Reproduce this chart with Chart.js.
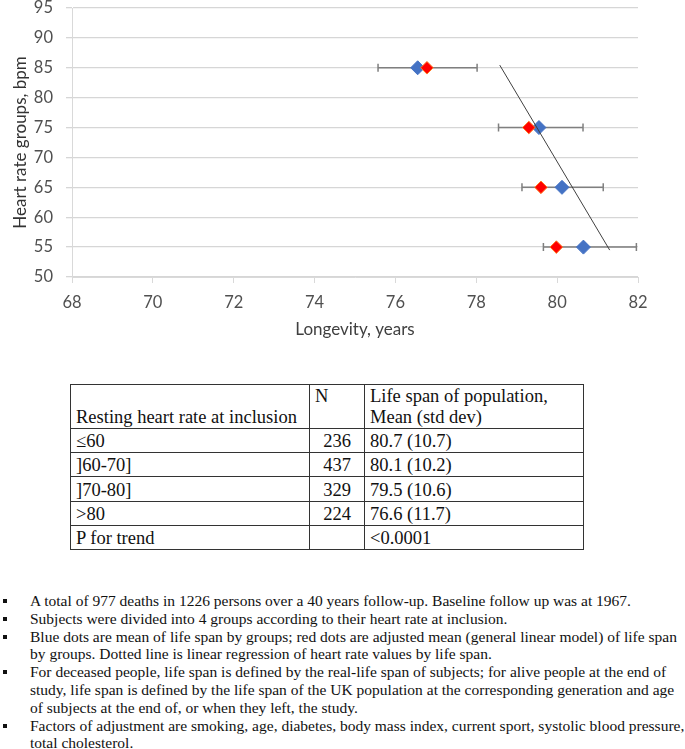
<!DOCTYPE html>
<html>
<head>
<meta charset="utf-8">
<script src="https://cdn.jsdelivr.net/npm/chart.js@4.4.1/dist/chart.umd.min.js"></script>
<style>
  html, body { margin: 0; padding: 0; background: #fff; }
  body { width: 685px; height: 749px; position: relative; overflow: hidden; }
  #chart-box { position: absolute; left: 0; top: 0; width: 685px; height: 345px; }
  table.stats {
    position: absolute; left: 70px; top: 384px;
    border-collapse: collapse;
    font-family: "Liberation Serif", "Times New Roman", serif;
    font-size: 18.5px; color: #111;
  }
  table.stats td {
    border: 1px solid #333; padding: 0 0 0 5px;
    line-height: 21px; vertical-align: bottom; white-space: nowrap;
  }
  table.stats tr.row td { height: 23.1px; }
  table.stats tr.head td { height: 42.3px; }
  table.stats td.top { vertical-align: top; padding-top: 1px; line-height: 20.6px; }
  table.stats td.num { text-align: right; padding: 0 13px 0 0; }
  ul.notes {
    position: absolute; left: 0; top: 592px; margin: 0; padding: 0;
    list-style: none;
    font-family: "Liberation Serif", "Times New Roman", serif;
    font-size: 15.5px; line-height: 17.8px; color: #111; white-space: nowrap;
  }
  ul.notes li { position: relative; padding-left: 30px; }
  ul.notes li::before {
    content: ""; position: absolute; left: 3px; top: 7px;
    width: 4px; height: 4px; background: #111;
  }
</style>
</head>
<body>
<div id="chart-box"><canvas id="chart-hr" width="685" height="345"></canvas></div>

<table class="stats">
  <tr class="head">
    <td style="width:233px">Resting heart rate at inclusion</td>
    <td class="top" style="width:49px">N</td>
    <td class="top" style="width:213px">Life span of population,<br>Mean (std dev)</td>
  </tr>
  <tr class="row"><td>≤60</td><td class="num">236</td><td>80.7 (10.7)</td></tr>
  <tr class="row"><td>]60-70]</td><td class="num">437</td><td>80.1 (10.2)</td></tr>
  <tr class="row"><td>]70-80]</td><td class="num">329</td><td>79.5 (10.6)</td></tr>
  <tr class="row"><td>&gt;80</td><td class="num">224</td><td>76.6 (11.7)</td></tr>
  <tr class="row"><td>P for trend</td><td class="num"></td><td>&lt;0.0001</td></tr>
</table>

<ul class="notes">
  <li>A total of 977 deaths in 1226 persons over a 40 years follow-up. Baseline follow up was at 1967.</li>
  <li>Subjects were divided into 4 groups according to their heart rate at inclusion.</li>
  <li>Blue dots are mean of life span by groups; red dots are adjusted mean (general linear model) of life span<br>by groups. Dotted line is linear regression of heart rate values by life span.</li>
  <li>For deceased people, life span is defined by the real-life span of subjects; for alive people at the end of<br>study, life span is defined by the life span of the UK population at the corresponding generation and age<br>of subjects at the end of, or when they left, the study.</li>
  <li>Factors of adjustment are smoking, age, diabetes, body mass index, current sport, systolic blood pressure,<br>total cholesterol.</li>
</ul>

<script>
// heart rate groups (y) and life span values (x)
const heartRateGroups = [85, 75, 65, 55];
const meanLifeSpan = [76.55, 79.55, 80.12, 80.65];     // blue
const adjustedLifeSpan = [76.78, 79.3, 79.6, 79.98];   // red
const errLow = [75.57, 78.55, 79.13, 79.66];
const errHigh = [78.02, 80.64, 81.14, 81.96];
const regressionX = [78.58, 81.3];
const regressionY = [85.45, 54.5];
const xTicks = [68, 70, 72, 74, 76, 78, 80, 82];
const yTicks = [50, 55, 60, 65, 70, 75, 80, 85, 90, 95];

const toPoints = (xs, ys) => xs.map((v, i) => ({ x: v, y: ys[i] }));

// horizontal error bars with caps, drawn under the markers
const errorBars = {
  id: "errorBars",
  beforeDatasetsDraw(chart) {
    const { ctx, scales } = chart;
    ctx.save();
    ctx.strokeStyle = "#7f7f7f";
    ctx.lineWidth = 1.5;
    heartRateGroups.forEach((hr, i) => {
      const py = scales.y.getPixelForValue(hr);
      const x0 = scales.x.getPixelForValue(errLow[i]);
      const x1 = scales.x.getPixelForValue(errHigh[i]);
      ctx.beginPath();
      ctx.moveTo(x0, py); ctx.lineTo(x1, py);
      ctx.moveTo(x0, py - 4); ctx.lineTo(x0, py + 4);
      ctx.moveTo(x1, py - 4); ctx.lineTo(x1, py + 4);
      ctx.stroke();
    });
    ctx.restore();
  },
};

const tickFont = { family: "Lato", size: 16.5 };

new Chart(document.getElementById("chart-hr").getContext("2d"), {
  type: "scatter",
  data: {
    datasets: [
      {
        type: "line",
        label: "Regression",
        data: toPoints(regressionX, regressionY),
        borderColor: "#404040",
        borderWidth: 1,
        pointRadius: 0,
        fill: false,
      },
      {
        label: "Adjusted mean",
        data: toPoints(adjustedLifeSpan, heartRateGroups),
        pointStyle: "rectRot",
        pointRadius: 6.3,
        backgroundColor: "#ff0000",
        borderColor: "#ff7a22",
        borderWidth: 1,
      },
      {
        label: "Mean",
        data: toPoints(meanLifeSpan, heartRateGroups),
        pointStyle: "rectRot",
        pointRadius: 7,
        backgroundColor: "#4472c4",
        borderColor: "#4472c4",
        borderWidth: 1,
      },
    ],
  },
  options: {
    responsive: false,
    animation: false,
    devicePixelRatio: 1,
    layout: { padding: { top: 7, right: 47, left: 0, bottom: 0 } },
    plugins: { legend: { display: false }, tooltip: { enabled: false } },
    scales: {
      x: {
        type: "linear",
        min: 68,
        max: 82,
        afterBuildTicks: (s) => { s.ticks = xTicks.map((v) => ({ value: v })); },
        afterFit: (s) => { s.height = 68; s.paddingLeft = 0; s.paddingRight = 0; },
        grid: { drawOnChartArea: false, drawTicks: true, tickLength: 6, color: "#d9d9d9" },
        border: { color: "#d9d9d9" },
        ticks: { font: tickFont, color: "#505050", padding: 10, maxRotation: 0, autoSkip: false },
        title: {
          display: true,
          text: "Longevity, years",
          font: { family: "Lato", size: 17 },
          color: "#404040",
          padding: { top: 0, bottom: 5 },
        },
      },
      y: {
        type: "linear",
        min: 50,
        max: 95,
        afterBuildTicks: (s) => { s.ticks = yTicks.map((v) => ({ value: v })); },
        afterFit: (s) => { s.width = 72; s.paddingTop = 0; s.paddingBottom = 0; },
        grid: { color: "#d6d6d6", lineWidth: 1.3, drawTicks: true, tickLength: 6 },
        border: { color: "#d9d9d9" },
        ticks: { font: tickFont, color: "#505050", padding: 13, autoSkip: false },
        title: {
          display: true,
          text: "Heart rate groups, bpm",
          font: { family: "Lato", size: 17 },
          color: "#333333",
          padding: { top: 10, bottom: 0 },
        },
      },
    },
  },
  plugins: [errorBars],
});
</script>
</body>
</html>
